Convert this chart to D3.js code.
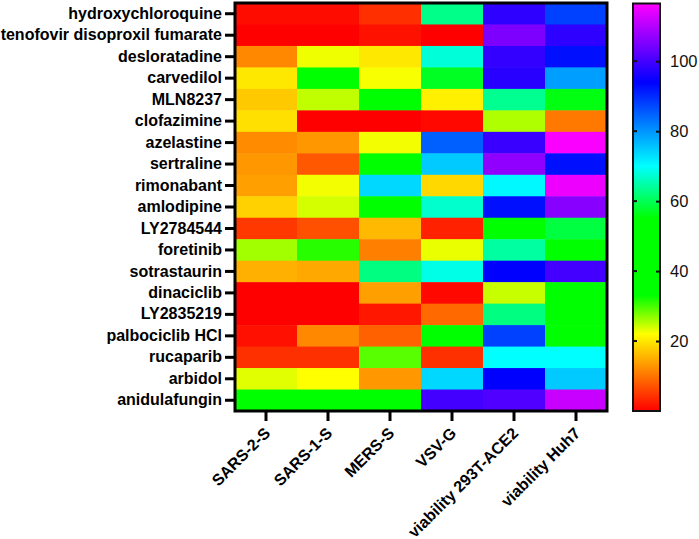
<!DOCTYPE html>
<html>
<head>
<meta charset="utf-8">
<script src="https://cdn.jsdelivr.net/npm/d3@7"></script>
<style>
  body { margin: 0; background: #fff; }
  svg { display: block; font-family: "Liberation Sans", Arial, sans-serif; }
</style>
</head>
<body>
<div id="chart"></div>
<script>
// Rows (drugs) and columns (assays)
const drugs = [
  "hydroxychloroquine", "tenofovir disoproxil fumarate", "desloratadine", "carvedilol",
  "MLN8237", "clofazimine", "azelastine", "sertraline", "rimonabant", "amlodipine",
  "LY2784544", "foretinib", "sotrastaurin", "dinaciclib", "LY2835219",
  "palbociclib HCl", "rucaparib", "arbidol", "anidulafungin"
];
const assays = ["SARS-2-S", "SARS-1-S", "MERS-S", "VSV-G", "viability 293T-ACE2", "viability Huh7"];

// One array per assay column, same order as drugs
const sars2S  = [1, 0, 11.7, 20, 17.3, 19.3, 12, 13, 13.8, 18, 4.8, 26, 15.2, 0, 0, 1.4, 4.1, 23.3, 45];
const sars1S  = [1, 0, 22.7, 40, 24.7, 0, 13, 7.6, 22.5, 23.9, 6.9, 31.3, 14.5, 0, 0, 11.7, 4.1, 22, 45];
const mersS   = [4, 1.5, 20, 22.3, 40, 0, 22.5, 40, 73.7, 40, 15.9, 11, 62.5, 13.8, 2, 8.3, 29.2, 13, 45];
const vsvG    = [63, 0, 67.7, 57, 20.7, 0.7, 85, 75, 18.6, 67, 2.8, 22.9, 68.6, 0.7, 9, 45, 4.1, 73.7, 100];
const via293T = [98, 105, 98.5, 97.5, 63.5, 25.4, 99, 106.7, 70.6, 92.5, 45, 64.4, 94, 24.4, 62.5, 88, 70, 94, 101];
const viaHuh7 = [88, 98, 92.5, 79, 56, 10.4, 116, 92.5, 115, 106, 58.8, 42, 100, 45, 45, 45, 70, 75, 111.6];
const columns = [sars2S, sars1S, mersS, vsvG, via293T, viaHuh7];

// Colour bar
const scaleTicks = [20, 40, 60, 80, 100];
const scaleMax = 116.5;

const cells = [];
drugs.forEach((drug, i) => {
  assays.forEach((assay, j) => cells.push({ drug, assay, value: columns[j][i] }));
});

const width = 699, height = 539;
const plot = { left: 235, right: 607, top: 3, bottom: 411 };
const bar = { left: 633, right: 660 };

const color = d3.scaleLinear()
  .domain([0, 11, 22, 33, 55, 70, 94, scaleMax])
  .range(["#ff0000", "#ff8000", "#ffff00", "#00ff00", "#00ff00", "#00ffff", "#0000ff", "#ff00ff"])
  .clamp(true);

const x = d3.scaleBand().domain(assays).range([plot.left, plot.right]);
const y = d3.scaleBand().domain(drugs).range([plot.top, plot.bottom]);

const svg = d3.select("#chart").append("svg")
  .attr("width", width)
  .attr("height", height);

// cells
svg.append("g")
  .selectAll("rect")
  .data(cells)
  .enter()
  .append("rect")
  .attr("x", d => x(d.assay))
  .attr("y", d => y(d.drug))
  .attr("width", x.bandwidth() + 0.5)
  .attr("height", y.bandwidth() + 0.5)
  .attr("fill", d => color(d.value));

// frame
svg.append("rect")
  .attr("x", plot.left).attr("y", plot.top)
  .attr("width", plot.right - plot.left).attr("height", plot.bottom - plot.top)
  .attr("fill", "none").attr("stroke", "#000").attr("stroke-width", 3);

// y axis
const yAxis = svg.append("g")
  .attr("transform", `translate(${plot.left},0)`)
  .call(d3.axisLeft(y).tickSize(10).tickPadding(3));
yAxis.select(".domain").remove();
yAxis.selectAll(".tick line").attr("stroke", "#000").attr("stroke-width", 3);
yAxis.selectAll(".tick text")
  .attr("fill", "#000")
  .style("font-size", "16px")
  .style("font-weight", "bold");

// x axis
const xAxis = svg.append("g")
  .attr("transform", `translate(0,${plot.bottom})`)
  .call(d3.axisBottom(x).tickSize(10).tickPadding(3));
xAxis.select(".domain").remove();
xAxis.selectAll(".tick line").attr("stroke", "#000").attr("stroke-width", 3);
xAxis.selectAll(".tick text")
  .attr("fill", "#000")
  .style("font-size", "16px")
  .style("font-weight", "bold")
  .attr("text-anchor", "end")
  .attr("dy", null)
  .attr("transform", "translate(-4,14) rotate(-45)");

// colour bar
const cy = d3.scaleLinear().domain([0, scaleMax]).range([plot.bottom, plot.top + 0.5]);
const grad = svg.append("defs").append("linearGradient")
  .attr("id", "cbar")
  .attr("x1", 0).attr("y1", 1).attr("x2", 0).attr("y2", 0);
grad.selectAll("stop")
  .data(color.domain())
  .enter()
  .append("stop")
  .attr("offset", d => d / scaleMax)
  .attr("stop-color", d => color(d));

svg.append("rect")
  .attr("x", bar.left).attr("y", cy(scaleMax))
  .attr("width", bar.right - bar.left).attr("height", cy(0) - cy(scaleMax))
  .attr("fill", "url(#cbar)")
  .attr("stroke", "#111").attr("stroke-width", 2);

const cAxis = svg.append("g")
  .attr("transform", `translate(${bar.right},0)`)
  .call(d3.axisRight(cy).tickValues(scaleTicks).tickSize(-4).tickPadding(10));
cAxis.select(".domain").remove();
cAxis.selectAll(".tick line").attr("stroke", "#111").attr("stroke-width", 2);
cAxis.selectAll(".tick text")
  .attr("fill", "#111")
  .style("font-size", "16.5px");

// inner ticks on the left side of the bar
svg.append("g")
  .selectAll("line")
  .data(scaleTicks)
  .enter()
  .append("line")
  .attr("x1", bar.left).attr("x2", bar.left + 4)
  .attr("y1", d => cy(d)).attr("y2", d => cy(d))
  .attr("stroke", "#111").attr("stroke-width", 2);
</script>
</body>
</html>
